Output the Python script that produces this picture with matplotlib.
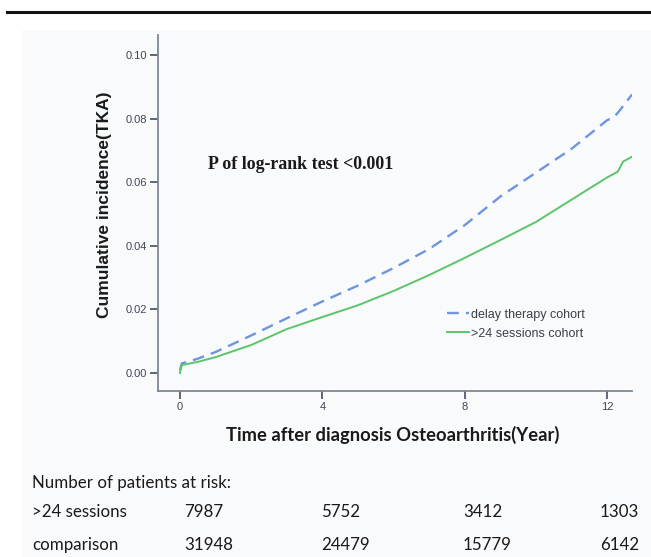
import matplotlib
matplotlib.use("Agg")
import matplotlib.pyplot as plt
from matplotlib.patches import Rectangle
from matplotlib.lines import Line2D

# (years, cumulative incidence)
t_delay = [0, 0.05, 0.5, 1, 2, 3, 4, 5, 6, 7, 8, 9, 10, 11, 12, 12.2, 12.35, 12.7]
ci_delay = [0.0008, 0.003, 0.0045, 0.0066, 0.0118, 0.0172, 0.0225, 0.0275, 0.033,
            0.039, 0.0465, 0.0555, 0.063, 0.0705, 0.0795, 0.0805, 0.0825, 0.0876]
t_sess = [0, 0.05, 0.5, 1, 2, 3, 4, 5, 6, 7, 8, 9, 10, 11, 12, 12.3, 12.45, 12.7]
ci_sess = [0.0, 0.0025, 0.0035, 0.005, 0.0088, 0.0138, 0.0176, 0.0213, 0.0258,
           0.0308, 0.0362, 0.0418, 0.0475, 0.0545, 0.0615, 0.0633, 0.0665, 0.068]

x_ticks = [0, 4, 8, 12]
y_ticks = [0.00, 0.02, 0.04, 0.06, 0.08, 0.10]

risk_labels = [">24 sessions", "comparison"]
risk_sessions = [7987, 5752, 3412, 1303]
risk_comparison = [31948, 24479, 15779, 6142]

W, H = 651, 557
fig = plt.figure(figsize=(W / 100, H / 100), dpi=100)
fig.patch.set_facecolor("white")

# light panel and the rule at the top
fig.patches.append(Rectangle((22 / W, 0), 1 - 22 / W, 1 - 30 / H,
                             transform=fig.transFigure, facecolor="#f9fafc",
                             edgecolor="none", zorder=-5))
fig.lines.append(Line2D([7 / W, 1], [1 - 12 / H, 1 - 12 / H], transform=fig.transFigure,
                        color="#111111", lw=2.2))

ax = fig.add_axes([158 / W, 1 - 391 / H, (632 - 158) / W, (391 - 35) / H])
ax.set_zorder(2)
ax.set_facecolor("none")

ax.plot(t_delay, ci_delay, color="#6f95dd", lw=1.7, dashes=(5, 3), label="delay therapy cohort")
ax.plot(t_sess, ci_sess, color="#5cc46a", lw=1.4, label=">24 sessions cohort")

ax.set_xlim(-0.617, 12.7)
ax.set_ylim(-0.00566, 0.1063)
ax.set_xticks(x_ticks)
ax.set_yticks(y_ticks)
ax.set_xticklabels([str(v) for v in x_ticks])
ax.set_yticklabels(["%.2f" % v for v in y_ticks])

for s in ["top", "right"]:
    ax.spines[s].set_visible(False)
for s in ["left", "bottom"]:
    ax.spines[s].set_color("#7d8793")
    ax.spines[s].set_linewidth(1.3)
ax.tick_params(axis="both", direction="out", length=6, width=1.4, color="#5d6673",
               labelsize=8, labelcolor="#3e4655", pad=2)
for lab in ax.get_xticklabels() + ax.get_yticklabels():
    lab.set_family("Liberation Sans")

ax.text(0.105, 0.635, "P of log-rank test <0.001", transform=ax.transAxes,
        family="Liberation Serif", fontweight="bold", fontsize=12.9, color="#1a1a1a",
        va="center")

leg = ax.legend(loc="upper left", bbox_to_anchor=(0.6, 0.245), frameon=False,
                prop={"family": "Liberation Sans", "size": 9}, handlelength=1.75,
                handletextpad=0.15, labelspacing=0.55, borderaxespad=0)
for txt in leg.get_texts():
    txt.set_color("#3a3f48")

fig.text(105 / W, 1 - 205 / H, "Cumulative incidence(TKA)", rotation=90,
         family="Liberation Sans", ha="center", va="center", fontsize=12.5,
         fontweight="bold", color="#1a1a1a")
fig.text(393 / W, 1 - 435 / H, "Time after diagnosis Osteoarthritis(Year)",
         family="Lato", fontweight="bold", fontsize=13.2, ha="center", va="center",
         color="#1a1a1a")

# number at risk table
fig.text(32 / W, 1 - 483 / H, "Number of patients at risk:", family="Lato",
         fontsize=12.2, ha="left", va="center", color="#1a1a1a")
col_x = [184, 321, 463, 600]
rows_y = [512, 545]
for lab, vals, yy in zip(risk_labels, [risk_sessions, risk_comparison], rows_y):
    fig.text(32 / W, 1 - yy / H, lab, family="Lato", fontsize=12.2, ha="left",
             va="center", color="#1a1a1a")
    for xx, v in zip(col_x, vals):
        fig.text(xx / W, 1 - yy / H, str(v), family="Lato", fontsize=12.2, ha="left",
                 va="center", color="#1a1a1a")

fig.savefig("out.png", dpi=100)
